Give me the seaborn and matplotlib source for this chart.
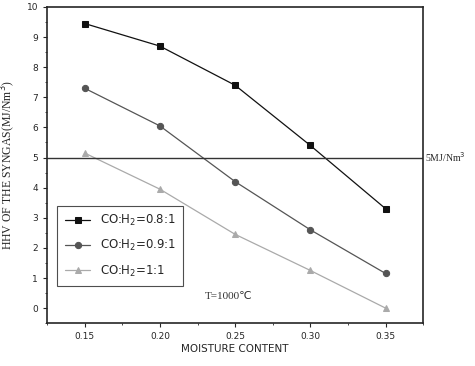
import matplotlib
matplotlib.use("Agg")
import matplotlib.pyplot as plt
import seaborn as sns
import pandas as pd
from matplotlib.ticker import MultipleLocator

moisture = [0.15, 0.20, 0.25, 0.30, 0.35]
hhv_08 = [9.45, 8.70, 7.40, 5.40, 3.30]
hhv_09 = [7.30, 6.05, 4.20, 2.60, 1.15]
hhv_10 = [5.15, 3.95, 2.45, 1.25, 0.00]
labels = ["CO:H$_2$=0.8:1", "CO:H$_2$=0.9:1", "CO:H$_2$=1:1"]
threshold = 5.0

sns.set_style("ticks")
plt.rcParams['font.family'] = ['DejaVu Sans']

df = pd.concat([
    pd.DataFrame({"x": moisture, "y": vals, "series": lab})
    for vals, lab in zip([hhv_08, hhv_09, hhv_10], labels)
])

fig = plt.figure(figsize=(4.75, 3.66), dpi=100)
ax = fig.add_axes([0.099, 0.117, 0.792, 0.864])

palette = {labels[0]: "#111111", labels[1]: "#555555", labels[2]: "#aaaaaa"}
markers = {labels[0]: "s", labels[1]: "o", labels[2]: "^"}
sns.lineplot(data=df, x="x", y="y", hue="series", style="series",
             palette=palette, markers=markers, dashes=False,
             markersize=4.5, linewidth=0.9, markeredgecolor=None, ax=ax)

ax.axhline(threshold, color="#333333", linewidth=1.0)
ax.text(1.005, threshold, "5MJ/Nm$^3$", transform=ax.get_yaxis_transform(),
        va="center", ha="left", fontsize=7, family="Liberation Serif")
ax.text(0.230, 0.3, "T=1000℃", fontsize=8, family=["Liberation Serif", "DejaVu Sans"], color="#333333")

ax.set_xlim(0.125, 0.375)
ax.set_ylim(-0.5, 10)
ax.set_xticks(moisture)
ax.set_xticklabels(["0.15", "0.20", "0.25", "0.30", "0.35"])
ax.xaxis.set_minor_locator(MultipleLocator(0.025))
ax.yaxis.set_major_locator(MultipleLocator(1))
ax.yaxis.set_minor_locator(MultipleLocator(0.5))
ax.tick_params(axis="both", which="major", labelsize=6.5, length=3, direction="out")
ax.tick_params(axis="both", which="minor", length=1.5, direction="out")
for s in ax.spines.values():
    s.set_linewidth(1.2)
    s.set_visible(True)

ax.set_xlabel("MOISTURE CONTENT", fontsize=7.5, labelpad=2)
ax.set_ylabel("HHV OF THE SYNGAS(MJ/Nm$^3$)", fontsize=8.5, family="Liberation Serif", labelpad=6)

leg = ax.legend(loc="lower left", bbox_to_anchor=(0.012, 0.1), fontsize=8.5,
                frameon=True, fancybox=False, edgecolor="#222222",
                handlelength=2.2, borderpad=0.6, labelspacing=0.85)
leg.get_frame().set_linewidth(0.8)

fig.savefig("out.png", dpi=100)
